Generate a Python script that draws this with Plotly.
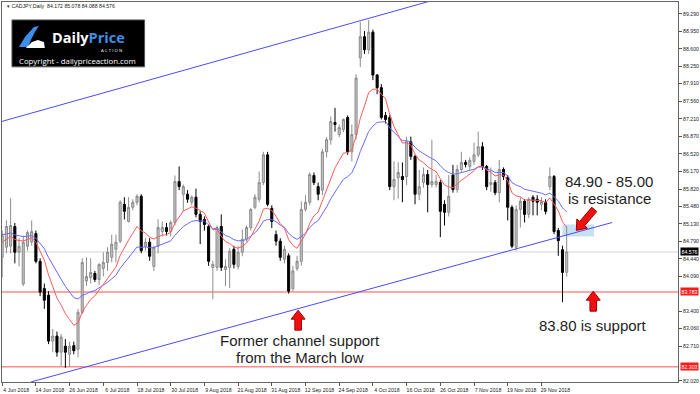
import numpy as np
import plotly.graph_objects as go

# ---------------- data ----------------
tick_labels = ["4 Jun 2018", "14 Jun 2018", "26 Jun 2018", "6 Jul 2018", "18 Jul 2018",
               "30 Jul 2018", "9 Aug 2018", "21 Aug 2018", "31 Aug 2018", "12 Sep 2018",
               "24 Sep 2018", "4 Oct 2018", "16 Oct 2018", "26 Oct 2018", "7 Nov 2018",
               "19 Nov 2018", "29 Nov 2018"]
tick_bars = [0, 8, 16, 24, 32, 40, 48, 56, 64, 72, 80, 88, 96, 104, 112, 120, 128]

opens = [84.47, 84.67, 84.69, 85.08, 84.57, 83.94, 84.69, 84.77, 84.94, 84.39,
         83.85, 83.72, 82.81, 82.91, 82.59, 82.71, 82.55, 82.72, 82.65, 83.38,
         84.00, 84.07, 84.15, 84.03, 84.25, 84.37, 84.47, 84.63, 84.79, 85.52,
         85.18, 85.46, 85.56, 85.68, 84.69, 84.77, 84.29, 84.69, 84.98, 85.06,
         84.98, 85.16, 85.97, 85.72, 85.72, 85.56, 85.66, 85.32, 85.22, 85.08,
         84.27, 84.27, 85.08, 84.23, 84.27, 84.63, 84.29, 84.57, 84.83, 85.06,
         85.46, 85.62, 85.95, 86.50, 85.44, 84.92, 84.79, 84.43, 84.50, 83.85,
         84.25, 84.39, 85.42, 85.56, 86.09, 85.87, 85.80, 86.56, 86.80, 87.14,
         86.90, 87.00, 87.24, 86.56, 86.90, 88.42, 88.84, 88.58, 88.93, 88.08,
         87.83, 87.28, 87.24, 85.87, 86.05, 86.07, 86.07, 86.76, 86.47, 85.72,
         85.95, 86.11, 85.91, 85.91, 85.95, 85.52, 85.36, 86.10, 85.81, 86.21,
         86.35, 86.27, 86.37, 86.50, 86.66, 86.27, 85.91, 85.95, 85.75, 86.21,
         86.05, 85.46, 84.67, 85.42, 85.58, 85.32, 85.66, 85.62, 85.52, 85.56,
         85.87, 86.07, 85.00, 84.62, 84.172]
highs = [85.00, 85.20, 85.64, 85.15, 84.85, 84.90, 85.00, 85.20, 85.00, 84.45,
         83.95, 83.80, 83.05, 83.00, 82.95, 82.85, 82.80, 82.80, 83.45, 84.45,
         84.47, 84.45, 84.20, 84.35, 84.57, 84.67, 84.92, 84.92, 85.60, 85.66,
         85.66, 85.62, 85.72, 85.72, 84.85, 84.85, 84.70, 85.22, 85.18, 85.15,
         85.20, 86.09, 86.27, 85.91, 85.80, 85.70, 85.83, 85.38, 85.28, 85.12,
         84.40, 85.10, 85.32, 84.43, 84.65, 84.70, 84.69, 85.02, 85.10, 85.44,
         85.72, 86.17, 86.56, 86.56, 85.50, 85.00, 84.85, 84.70, 84.55, 84.30,
         84.50, 85.58, 85.70, 86.15, 86.15, 85.95, 86.62, 86.85, 87.26, 87.43,
         87.10, 87.22, 87.28, 87.10, 88.10, 89.13, 88.95, 89.17, 88.98, 88.10,
         87.90, 87.35, 87.30, 86.37, 86.35, 86.35, 86.86, 86.86, 86.50, 86.20,
         86.25, 86.20, 86.80, 86.10, 86.00, 85.60, 86.10, 86.30, 86.30, 86.56,
         86.40, 86.45, 86.74, 86.96, 86.75, 86.30, 86.25, 86.00, 86.40, 86.25,
         86.10, 85.50, 85.50, 85.66, 85.62, 85.66, 85.70, 85.70, 85.66, 85.62,
         86.25, 86.10, 85.05, 84.70, 85.078]
lows = [84.07, 84.55, 84.55, 84.35, 84.29, 83.90, 84.60, 84.70, 84.35, 83.70,
        83.45, 82.75, 82.59, 82.50, 82.32, 82.28, 82.30, 82.55, 82.49, 83.35,
        83.90, 83.95, 83.98, 83.92, 84.09, 84.20, 84.37, 84.37, 84.75, 85.22,
        85.16, 85.40, 85.50, 84.55, 84.60, 84.40, 84.20, 84.55, 84.88, 84.90,
        84.88, 85.10, 85.80, 85.38, 85.55, 85.50, 85.26, 84.73, 85.00, 84.30,
        83.64, 84.20, 84.20, 83.90, 83.86, 84.25, 84.23, 84.49, 84.78, 85.00,
        85.42, 85.56, 85.90, 85.48, 85.05, 84.70, 84.40, 84.35, 83.75, 83.80,
        84.20, 84.30, 85.38, 85.50, 85.90, 85.60, 85.70, 86.45, 86.70, 86.96,
        86.85, 86.95, 86.50, 86.37, 86.80, 88.24, 88.50, 88.50, 87.98, 87.70,
        87.20, 87.12, 85.80, 85.60, 85.63, 85.56, 85.90, 86.40, 85.52, 85.60,
        85.85, 85.36, 85.85, 85.85, 84.87, 85.10, 85.28, 85.75, 85.75, 86.15,
        86.25, 86.20, 86.30, 86.45, 86.20, 85.80, 85.77, 85.70, 85.56, 86.00,
        85.20, 84.65, 84.60, 85.06, 85.16, 85.25, 85.30, 85.30, 85.40, 85.32,
        85.80, 84.93, 84.50, 83.58, 84.088]
closes = [84.90, 85.08, 85.10, 84.57, 84.69, 84.77, 84.96, 84.98, 84.39, 83.78,
          83.62, 82.81, 82.91, 82.59, 82.89, 82.59, 82.71, 82.62, 83.38, 84.37,
          84.09, 84.17, 84.03, 84.33, 84.37, 84.57, 84.73, 84.77, 85.56, 85.38,
          85.46, 85.56, 85.68, 84.60, 84.77, 84.49, 84.67, 85.06, 85.06, 84.98,
          85.16, 85.97, 85.87, 85.87, 85.62, 85.66, 85.32, 85.18, 85.12, 84.39,
          84.33, 85.06, 84.27, 84.29, 84.59, 84.33, 84.57, 84.83, 85.06, 85.42,
          85.66, 85.95, 86.50, 85.52, 85.18, 84.79, 84.47, 84.63, 83.80, 84.20,
          84.39, 85.42, 85.56, 86.11, 85.95, 85.72, 86.56, 86.80, 87.16, 87.10,
          87.04, 87.20, 86.56, 86.90, 88.02, 88.84, 88.58, 88.93, 88.08, 87.83,
          87.24, 87.20, 85.87, 86.01, 86.15, 86.01, 86.76, 86.47, 85.72, 85.87,
          86.11, 85.91, 85.97, 85.97, 85.38, 85.36, 85.68, 85.81, 86.21, 86.35,
          86.31, 86.39, 86.50, 86.66, 86.27, 85.87, 85.95, 85.75, 86.21, 86.07,
          85.46, 84.69, 85.42, 85.58, 85.32, 85.62, 85.58, 85.56, 85.58, 85.38,
          86.07, 84.98, 84.80, 84.17, 84.576]

ema_fast_period, ema_slow_period = 10, 20
ema_fast_seed, ema_slow_seed = 84.75, 84.92

y_ticks = [89.290, 88.950, 88.600, 88.250, 87.910, 87.560, 87.210, 86.870, 86.520,
           86.170, 85.820, 85.480, 85.130, 84.790, 84.440, 84.090, 83.400, 83.060,
           82.710, 82.020]
level_lines = [83.783, 82.303]
last_price = 84.576

channel_upper_x, channel_upper_y = [-1.0, 103.5], [87.14, 89.59]
channel_lower_x, channel_lower_y = [6.8, 144.8], [82.00, 85.16]
zone_x, zone_y = [133.0, 140.5], [84.88, 85.12]

# ---------------- figure ----------------
W, H = 700, 394
ML, MR, MT, MB = 1, 21, 2, 11
PW, PH = W - ML - MR, H - MT - MB


def px(x):
    return (x - ML) / PW


def py(y):
    return (MT + PH - y) / PH


def ema(values, period, seed):
    a = 2.0 / (period + 1)
    out, e = [], seed
    for v in values:
        e = e + a * (v - e)
        out.append(e)
    return out


idx = list(range(len(closes)))
fig = go.Figure()

# horizontal levels
for lv in level_lines:
    fig.add_hline(y=lv, line=dict(color="#ff8a8a", width=1.6), layer="below")
fig.add_hline(y=last_price, line=dict(color="#d4d4d4", width=1), layer="below")

# resistance zone
fig.add_shape(type="rect", x0=zone_x[0], x1=zone_x[1], y0=zone_y[0], y1=zone_y[1],
              xref="x", yref="y", fillcolor="rgba(190,220,240,0.85)", line=dict(width=0),
              layer="below")

fig.add_trace(go.Scatter(x=channel_upper_x, y=channel_upper_y, mode="lines",
                         line=dict(color="#4a4aff", width=1), hoverinfo="skip"))
fig.add_trace(go.Scatter(x=channel_lower_x, y=channel_lower_y, mode="lines",
                         line=dict(color="#4a4aff", width=1), hoverinfo="skip"))

fig.add_trace(go.Candlestick(
    x=idx, open=opens, high=highs, low=lows, close=closes,
    increasing=dict(fillcolor="#c4c4c4", line=dict(color="#8c8c8c", width=1)),
    decreasing=dict(fillcolor="#000000", line=dict(color="#000000", width=1)),
    whiskerwidth=0, hoverinfo="skip"))

fig.add_trace(go.Scatter(x=idx, y=ema(closes, ema_slow_period, ema_slow_seed), mode="lines",
                         line=dict(color="#6a6aff", width=1), hoverinfo="skip"))
fig.add_trace(go.Scatter(x=idx, y=ema(closes, ema_fast_period, ema_fast_seed), mode="lines",
                         line=dict(color="#ff5a5a", width=1), hoverinfo="skip"))


def block_arrow(tail, tip, head_len=9, head_half=7, shaft_half=3.3):
    t = np.array(tail, float)
    p = np.array(tip, float)
    d = p - t
    L = np.linalg.norm(d)
    u = d / L
    n = np.array([-u[1], u[0]])
    b = p - u * head_len
    pts = [p, b + n * head_half, b + n * shaft_half, t + n * shaft_half,
           t - n * shaft_half, b - n * shaft_half, b - n * head_half]
    path = "M " + " L ".join(f"{px(q[0]):.5f},{py(q[1]):.5f}" for q in pts) + " Z"
    return dict(type="path", path=path, xref="paper", yref="paper",
                fillcolor="#f01010", line=dict(color="#a00000", width=1))


fig.add_shape(**block_arrow((595, 210), (577, 231)))
fig.add_shape(**block_arrow((298, 331), (298, 311)))
fig.add_shape(**block_arrow((594, 312), (594, 292)))

# logo box
fig.add_shape(type="rect", xref="paper", yref="paper", x0=px(11), x1=px(144),
              y0=py(67), y1=py(20), fillcolor="#000000", line=dict(color="#555", width=1))
logo_blue = [(18, 47), (24, 37), (33, 27), (38, 26), (34, 32), (30, 40), (27, 47)]
fig.add_shape(type="path", xref="paper", yref="paper",
              path="M " + " L ".join(f"{px(a):.5f},{py(b):.5f}" for a, b in logo_blue) + " Z",
              fillcolor="#3d8ee8", line=dict(width=0))
logo_white = [(25, 48), (31, 42), (37, 40), (43, 42), (44, 48)]
fig.add_shape(type="path", xref="paper", yref="paper",
              path="M " + " L ".join(f"{px(a):.5f},{py(b):.5f}" for a, b in logo_white) + " Z",
              fillcolor="#ffffff", line=dict(width=0))

TXT = dict(family="Liberation Sans, Arial", size=15, color="#1e1e1e")


def note(text, x, y, **kw):
    d = dict(text=text, x=px(x), y=py(y), xref="paper", yref="paper", showarrow=False,
             xanchor="center", yanchor="middle", font=TXT)
    d.update(kw)
    fig.add_annotation(**d)


note("84.90 - 85.00", 610, 182)
note("is resistance", 610, 199)
note("83.80 is support", 594, 326)
note("Former channel support", 300, 341)
note("from the March low", 300, 358)

# logo texts
note("<b>Daily</b><b><span style='color:#3d8ee8'>Price</span></b>", 88, 37.5,
     font=dict(family="Open Sans, Arial", size=14.5, color="#ffffff"), borderpad=0)
note("A C T I O N", 111, 50.5, font=dict(family="Open Sans", size=4.3, color="#ffffff"),
     borderpad=0)
note("Copyright - dailypriceaction.com", 77, 61,
     font=dict(family="Open Sans", size=7.8, color="#ffffff"))

# header
note("▾ CADJPY,Daily  84.172 85.078 84.088 84.576", 4, 6, xanchor="left",
     font=dict(family="Liberation Sans, Arial", size=5.2, color="#222222"))

# price labels on axis
for lv in level_lines:
    fig.add_annotation(text=f"{lv:.3f}", x=1, xref="paper", y=lv, yref="y",
                       xanchor="left", yanchor="middle", xshift=2, showarrow=False,
                       bgcolor="#ff1a1a", borderpad=0.6,
                       font=dict(family="Liberation Sans, Arial", size=5.2, color="#ffffff"))
fig.add_annotation(text=f"{last_price:.3f}", x=1, xref="paper", y=last_price, yref="y",
                   xanchor="left", yanchor="middle", xshift=2, showarrow=False,
                   bgcolor="#000000", borderpad=0.6,
                   font=dict(family="Liberation Sans, Arial", size=5.2, color="#ffffff"))

fig.update_layout(
    width=W, height=H, margin=dict(l=ML, r=MR, t=MT, b=MB),
    paper_bgcolor="#ffffff", plot_bgcolor="#ffffff", showlegend=False,
    xaxis=dict(range=[-0.047, 160.42], showgrid=False, zeroline=False,
               rangeslider=dict(visible=False),
               tickmode="array", tickvals=tick_bars, ticktext=tick_labels,
               ticks="outside", ticklen=3, tickcolor="#555555",
               tickfont=dict(family="Liberation Sans, Arial", size=5.2, color="#222222"),
               ticklabelshift=14, ticklabelstandoff=0,
               showline=True, linecolor="#666666", linewidth=1, mirror=True),
    yaxis=dict(range=[82.0, 89.527], side="right", showgrid=False, zeroline=False,
               tickmode="array", tickvals=y_ticks, ticktext=[f"{v:.3f}" for v in y_ticks],
               ticks="outside", ticklen=3, tickcolor="#555555",
               tickfont=dict(family="Liberation Sans, Arial", size=5.2, color="#222222"),
               showline=True, linecolor="#666666", linewidth=1, mirror=True),
)

fig.write_html("out.html")
